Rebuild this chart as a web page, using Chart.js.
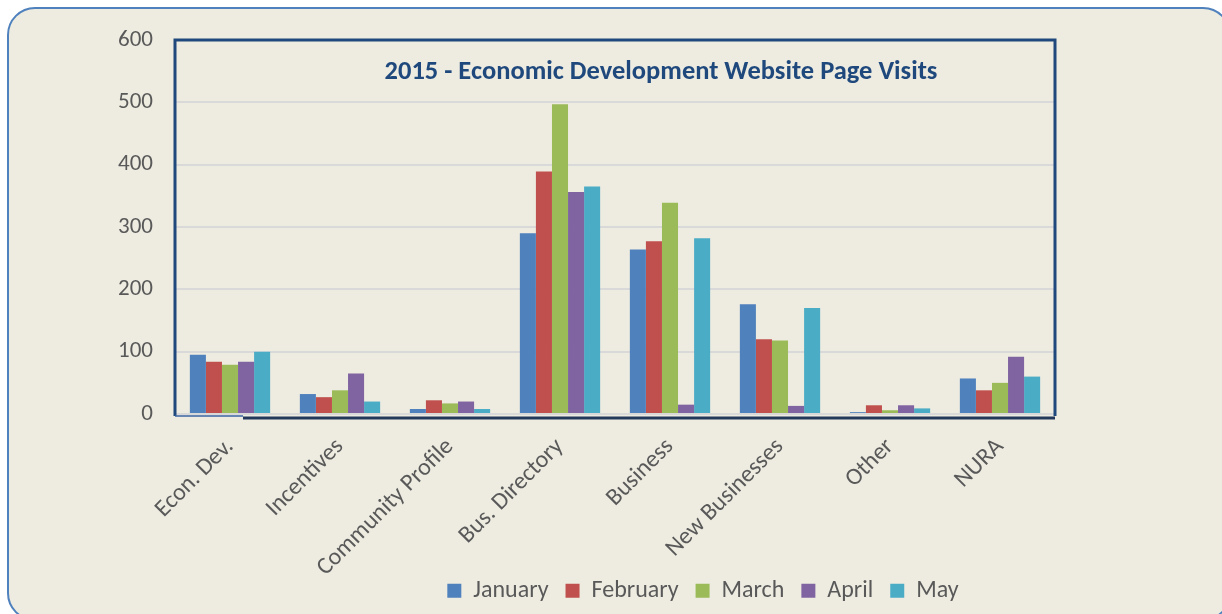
<!DOCTYPE html>
<html>
<head>
<meta charset="utf-8">
<script src="https://cdn.jsdelivr.net/npm/chart.js@4"></script>
<style>
  html, body { margin: 0; padding: 0; background: #ffffff; }
  .fundo {
    position: absolute; left: 7px; top: 7px; width: 1220px; height: 610px;
    border: 2.5px solid #4F81BD; border-radius: 28px; background: #EEECE1;
  }
  .caixa { position: absolute; left: 0; top: 0; width: 1222px; height: 614px; }
</style>
</head>
<body>
<div class="fundo"></div>
<div class="caixa"><canvas id="visitas"></canvas></div>
<script>
var categorias = ['Econ. Dev.', 'Incentives', 'Community Profile', 'Bus. Directory', 'Business', 'New Businesses', 'Other', 'NURA'];
var meses = ['January', 'February', 'March', 'April', 'May'];

var janeiro = [95, 32, 8, 290, 264, 176, 3, 57];
var fevereiro = [84, 27, 22, 389, 277, 120, 14, 38];
var marco = [79, 38, 17, 497, 339, 118, 6, 50];
var abril = [84, 65, 20, 356, 15, 13, 14, 92];
var maio = [100, 20, 8, 365, 282, 170, 9, 60];

var cores = ['#4F81BD', '#C0504D', '#9BBB59', '#8064A2', '#4BACC6'];
var fonte = 'Carlito, Lato, sans-serif';

var ctxVisitas = document.getElementById('visitas').getContext('2d');

var dataVisitas = {
    labels: categorias,
    datasets: [janeiro, fevereiro, marco, abril, maio].map(function (valores, i) {
        return {
            label: meses[i],
            data: valores,
            backgroundColor: cores[i],
            borderWidth: 0,
            categoryPercentage: 0.73,
            barPercentage: 1.0
        };
    })
};

// moldura do grafico e deslocamento do titulo / legenda
var molduraPlugin = {
    id: 'moldura',
    afterLayout: function (chart) {
        var t = chart.titleBlock, l = chart.legend;
        if (t) { var dt = 661 - (t.left + t.right) / 2; t.left += dt; t.right += dt; }
        if (l) { var dl = 703 - (l.left + l.right) / 2; l.left += dl; l.right += dl; }
        // deixa os rotulos do eixo x passarem por baixo da legenda sem cortar
        chart.scales.x.bottom = chart.height;
    },
    afterDatasetsDraw: function (chart) {
        var a = chart.chartArea, c = chart.ctx;
        c.save();
        c.strokeStyle = '#1F497D';
        c.lineWidth = 3;
        c.beginPath();
        c.moveTo(a.left, a.bottom + 2);
        c.lineTo(a.left, a.top);
        c.lineTo(a.right, a.top);
        c.lineTo(a.right, a.bottom + 2);
        c.stroke();
        // linha de baixo
        c.lineWidth = 1.5;
        c.strokeStyle = '#3A64A0';
        c.beginPath();
        c.moveTo(a.left, a.bottom + 2);
        c.lineTo(a.left + 68, a.bottom + 2);
        c.stroke();
        c.lineWidth = 3;
        c.strokeStyle = '#22395C';
        c.beginPath();
        c.moveTo(a.left + 68, a.bottom + 4);
        c.lineTo(a.right, a.bottom + 4);
        c.stroke();
        c.restore();
    }
};

var optionsVisitas = {
    responsive: false,
    animation: false,
    layout: {
        padding: { left: 117, right: 167, top: 40, bottom: 1 }
    },
    scales: {
        y: {
            min: 0,
            max: 600,
            afterFit: function (scale) { scale.width = 58; },
            ticks: {
                stepSize: 100,
                padding: 22,
                color: '#595959',
                font: { family: fonte, size: 23 }
            },
            grid: {
                color: '#D9D9D9',
                lineWidth: 2,
                drawTicks: false
            },
            border: { display: false }
        },
        x: {
            afterFit: function (scale) { scale.height = 148; },
            ticks: {
                minRotation: 45,
                maxRotation: 45,
                padding: 19,
                color: '#595959',
                font: { family: fonte, size: 24 }
            },
            grid: { display: false, drawTicks: false },
            border: { display: false }
        }
    },
    plugins: {
        title: {
            display: true,
            text: '2015 - Economic Development Website Page Visits',
            color: '#1F497D',
            font: { family: fonte, size: 26.5, weight: 'bold' },
            padding: { top: 16, bottom: -48 }
        },
        legend: {
            position: 'bottom',
            labels: {
                boxWidth: 14,
                boxHeight: 14,
                padding: 17,
                color: '#595959',
                font: { family: fonte, size: 24 }
            }
        },
        tooltip: { enabled: false }
    }
};

var canvas = document.getElementById('visitas');
canvas.width = 1222;
canvas.height = 614;

var Visitas = new Chart(ctxVisitas, {
    type: 'bar',
    data: dataVisitas,
    options: optionsVisitas,
    plugins: [molduraPlugin]
});
</script>
</body>
</html>
